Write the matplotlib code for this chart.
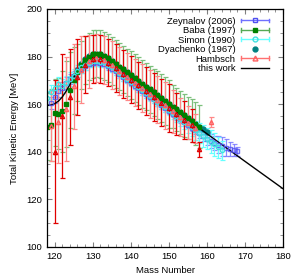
import numpy as np
import matplotlib
matplotlib.use("Agg")
import matplotlib.pyplot as plt
from matplotlib.lines import Line2D
from matplotlib.legend_handler import HandlerBase

plt.rcParams['font.family'] = ['Liberation Sans', 'DejaVu Sans']

# this work (model curve)
mass_line = [118, 119, 120, 121, 122, 123, 124, 125, 126, 127, 128, 129, 130, 131,
             132, 133, 134, 135, 140, 150, 160, 170, 180]
tke_line = [159.5, 159.6, 160.2, 161.3, 163.0, 165.4, 168.3, 171.2, 173.9, 176.0,
            177.6, 178.8, 179.6, 180.0, 179.8, 179.1, 178.1, 176.9, 171.0, 159.3,
            147.6, 136.0, 124.5]

# Zeynalov (2006)
mass_zey = list(range(119, 169))
tke_zey = [160.5, 163.0, 165.5, 167.0, 169.0, 170.5, 172.0, 173.5, 175.0, 176.0,
           177.0, 177.5, 177.8, 177.5, 177.0, 176.0, 175.0, 173.8, 172.6, 171.4,
           170.2, 169.0, 167.8, 166.6, 165.5, 164.3, 163.2, 162.0, 160.8, 159.6,
           158.4, 157.2, 156.0, 154.9, 153.7, 152.5, 151.3, 150.1, 149.0, 147.8,
           146.6, 145.4, 144.5, 143.6, 143.0, 142.3, 141.8, 141.2, 140.7, 140.2]
err_zey = [2.5, 2.5, 2.5, 2.5, 2.5, 2.0, 2.0, 2.0, 2.0, 1.5,
           1.5, 1.5, 1.5, 1.5, 1.5, 1.5, 1.5, 1.5, 1.5, 1.5,
           1.5, 1.5, 1.5, 1.5, 1.5, 1.5, 1.5, 1.5, 1.5, 1.5,
           1.5, 1.5, 1.5, 1.5, 1.5, 1.5, 1.5, 1.5, 1.5, 2.0,
           2.0, 2.5, 3.0, 3.0, 3.5, 4.0, 3.5, 3.0, 2.5, 2.0]

# Baba (1997)
mass_baba = list(range(118, 159))
tke_baba = [150.5, 151.2, 156.5, 156.0, 157.0, 160.2, 166.0, 170.0, 173.5, 176.5,
            178.5, 180.0, 181.0, 181.3, 181.0, 180.3, 179.3, 178.2, 177.0, 175.8,
            174.6, 173.4, 172.2, 171.0, 169.8, 168.6, 167.4, 166.2, 165.0, 163.8,
            162.6, 161.4, 160.2, 159.0, 157.8, 156.6, 155.4, 154.2, 153.0, 151.8,
            150.6]
err_baba = [14, 15, 14, 15, 17, 18, 16, 14, 12, 10,
            10, 10, 10, 10, 10, 10, 10, 10, 10, 10,
            10, 10, 10, 10, 10, 10, 10, 10, 10, 10,
            10, 10, 10, 9, 9, 9, 9, 9, 9, 9,
            9]

# Simon (1990)
mass_sim = list(range(118, 165))
tke_sim = [162.5, 165.0, 167.0, 168.5, 167.5, 169.0, 170.5, 172.0, 174.0, 175.5,
           176.5, 177.5, 178.0, 178.0, 177.8, 177.6, 176.6, 175.5, 174.3, 173.1,
           171.9, 170.7, 169.5, 168.3, 167.1, 165.9, 164.7, 163.5, 162.3, 161.1,
           159.9, 158.7, 157.5, 156.3, 155.1, 153.9, 152.7, 151.5, 150.3, 149.1,
           147.9, 146.7, 145.5, 144.3, 143.1, 141.9, 140.7]
err_sim = [3, 3, 3, 3, 3, 3, 3, 3, 2.5, 2.5,
           2, 2, 2, 2, 2, 2, 2, 2, 2, 2,
           2, 2, 2, 2, 2, 2, 2, 2, 2, 2,
           2, 2, 2, 2.5, 2.5, 3, 3, 3.5, 3.5, 4,
           4, 4.5, 4.5, 5, 5, 4.5, 4]

# Dyachenko (1967)
mass_dya = list(range(125, 161))
tke_dya = [172.0, 174.5, 177.0, 179.0, 180.2, 181.0, 181.3, 181.0, 180.3, 179.3,
           178.2, 177.0, 175.8, 174.6, 173.4, 172.2, 171.0, 169.8, 168.6, 167.4,
           166.2, 165.0, 163.8, 162.6, 161.4, 160.2, 159.0, 157.8, 156.6, 155.4,
           154.2, 153.0, 151.8, 150.6, 149.4, 148.2]

# Hambsch
mass_ham = list(range(119, 159)) + [161]
tke_ham = [151.0, 140.0, 152.5, 155.0, 158.0, 163.0, 167.5, 171.5, 174.5, 176.5,
           178.0, 179.0, 179.3, 179.0, 178.5, 177.5, 176.4, 175.2, 174.0, 172.8,
           171.6, 170.3, 169.1, 167.9, 166.7, 165.5, 164.3, 163.1, 161.9, 160.7,
           159.5, 158.3, 157.1, 155.9, 154.7, 153.5, 152.3, 151.1, 149.9, 141.0,
           152.5]
err_ham = [15, 30, 17, 26, 22, 20, 18, 16, 14, 12,
           11, 10, 10, 10, 10, 10, 10, 10, 10, 10,
           10, 10, 10, 10, 10, 10, 10, 10, 10, 10,
           10, 10, 9, 9, 8, 8, 7, 7, 6, 3,
           2]


class HandlerErrKey(HandlerBase):
    # gnuplot-like key sample: horizontal bar with end ticks and a marker in the middle
    def __init__(self, caps=True):
        super().__init__()
        self.caps = caps

    def create_artists(self, legend, orig_handle, xdescent, ydescent, width, height,
                       fontsize, trans):
        y = height / 2 - ydescent
        x0 = -xdescent
        x1 = -xdescent + width
        arts = []
        col = orig_handle.get_color()
        if self.caps:
            arts.append(Line2D([x0, x1], [y, y], color=col, lw=1.0))
            h = 0.3 * height
            arts.append(Line2D([x0, x0], [y - h, y + h], color=col, lw=1.0))
            arts.append(Line2D([x1, x1], [y - h, y + h], color=col, lw=1.0))
        m = Line2D([(x0 + x1) / 2], [y], linestyle='none',
                   marker=orig_handle.get_marker(),
                   markersize=orig_handle.get_markersize(),
                   mfc=orig_handle.get_markerfacecolor(),
                   mec=orig_handle.get_markeredgecolor())
        arts.append(m)
        for a in arts:
            a.set_transform(trans)
        return arts


fig = plt.figure(figsize=(3.0, 2.79), dpi=100)
ax = fig.add_axes([47 / 300, 1 - 247 / 279, 236 / 300, 238 / 279])

eb = dict(capsize=1.8, elinewidth=0.9, capthick=0.9, markersize=3.0, linestyle='none')

ax.errorbar(mass_zey, tke_zey, yerr=err_zey, marker='s', mfc='none', mec='#5050f0',
            ecolor='#7070ff', alpha=0.8, **eb)
ax.errorbar(mass_baba, tke_baba, yerr=err_baba, marker='s', mfc='#008000', mec='#008000',
            ecolor='#7cc07c', **dict(eb, markersize=2.5))
ax.errorbar(mass_sim, tke_sim, yerr=err_sim, marker='o', mfc='none', mec='#40e0e0',
            ecolor='#66ffff', **eb)
ax.plot(mass_dya, tke_dya, 'o', color='#008080', markersize=3.6, linestyle='none')

mh = np.array(mass_ham)
th = np.array(tke_ham)
eh = np.array(err_ham)
odd = mh % 2 == 1
ax.errorbar(mh[odd], th[odd], yerr=eh[odd], marker='^', mfc='none', mec='#ff6060',
            ecolor='#ff8888', **eb)
ax.errorbar(mh[~odd], th[~odd], yerr=eh[~odd], marker='^', mfc='none', mec='#e00000',
            ecolor='#e00000', **eb)

ax.plot(mass_line, tke_line, color='black', lw=1.0)

ax.set_xlim(118, 180)
ax.set_ylim(100, 200)
ax.set_xticks([120, 130, 140, 150, 160, 170, 180])
ax.set_yticks([100, 120, 140, 160, 180, 200])
ax.set_xticks(np.arange(118, 181, 2), minor=True)
ax.set_yticks(np.arange(100, 201, 5), minor=True)
ax.tick_params(which='both', direction='in', top=True, right=True, labelsize=6.8,
               color='#808080', pad=3.5)
ax.tick_params(which='major', length=3.5, width=0.8)
ax.tick_params(which='minor', length=2, width=0.6)
for s in ax.spines.values():
    s.set_linewidth(0.9)

ax.set_xlabel('Mass Number', fontsize=6.8, labelpad=4)
ax.set_ylabel('Total Kinetic Energy [MeV]', fontsize=6.8, labelpad=5)

# key proxies
k_zey = Line2D([], [], color='#7070ff', marker='s', mfc='none', mec='#5050f0', markersize=3.5)
k_baba = Line2D([], [], color='#55aa55', marker='s', mfc='#008000', mec='#008000', markersize=3.5)
k_sim = Line2D([], [], color='#66ffff', marker='o', mfc='none', mec='#40e0e0', markersize=3.5)
k_dya = Line2D([], [], color='#008080', marker='o', mfc='#008080', mec='#008080', markersize=3.5)
k_ham = Line2D([], [], color='#ff7070', marker='^', mfc='none', mec='#ff6060', markersize=3.5)
k_this = Line2D([], [], color='black', lw=1.0)

ax.legend([k_zey, k_baba, k_sim, k_dya, k_ham, k_this],
          ['Zeynalov (2006)', 'Baba (1997)', 'Simon (1990)', 'Dyachenko (1967)',
           'Hambsch', 'this work'],
          handler_map={k_zey: HandlerErrKey(), k_baba: HandlerErrKey(),
                       k_sim: HandlerErrKey(), k_dya: HandlerErrKey(caps=False),
                       k_ham: HandlerErrKey()},
          loc='upper right', frameon=False, markerfirst=False, fontsize=6.8,
          handlelength=3.0, handletextpad=0.6, labelspacing=0.05,
          borderaxespad=0.3, bbox_to_anchor=(0.97, 0.995))

fig.savefig('out.png', dpi=100)
